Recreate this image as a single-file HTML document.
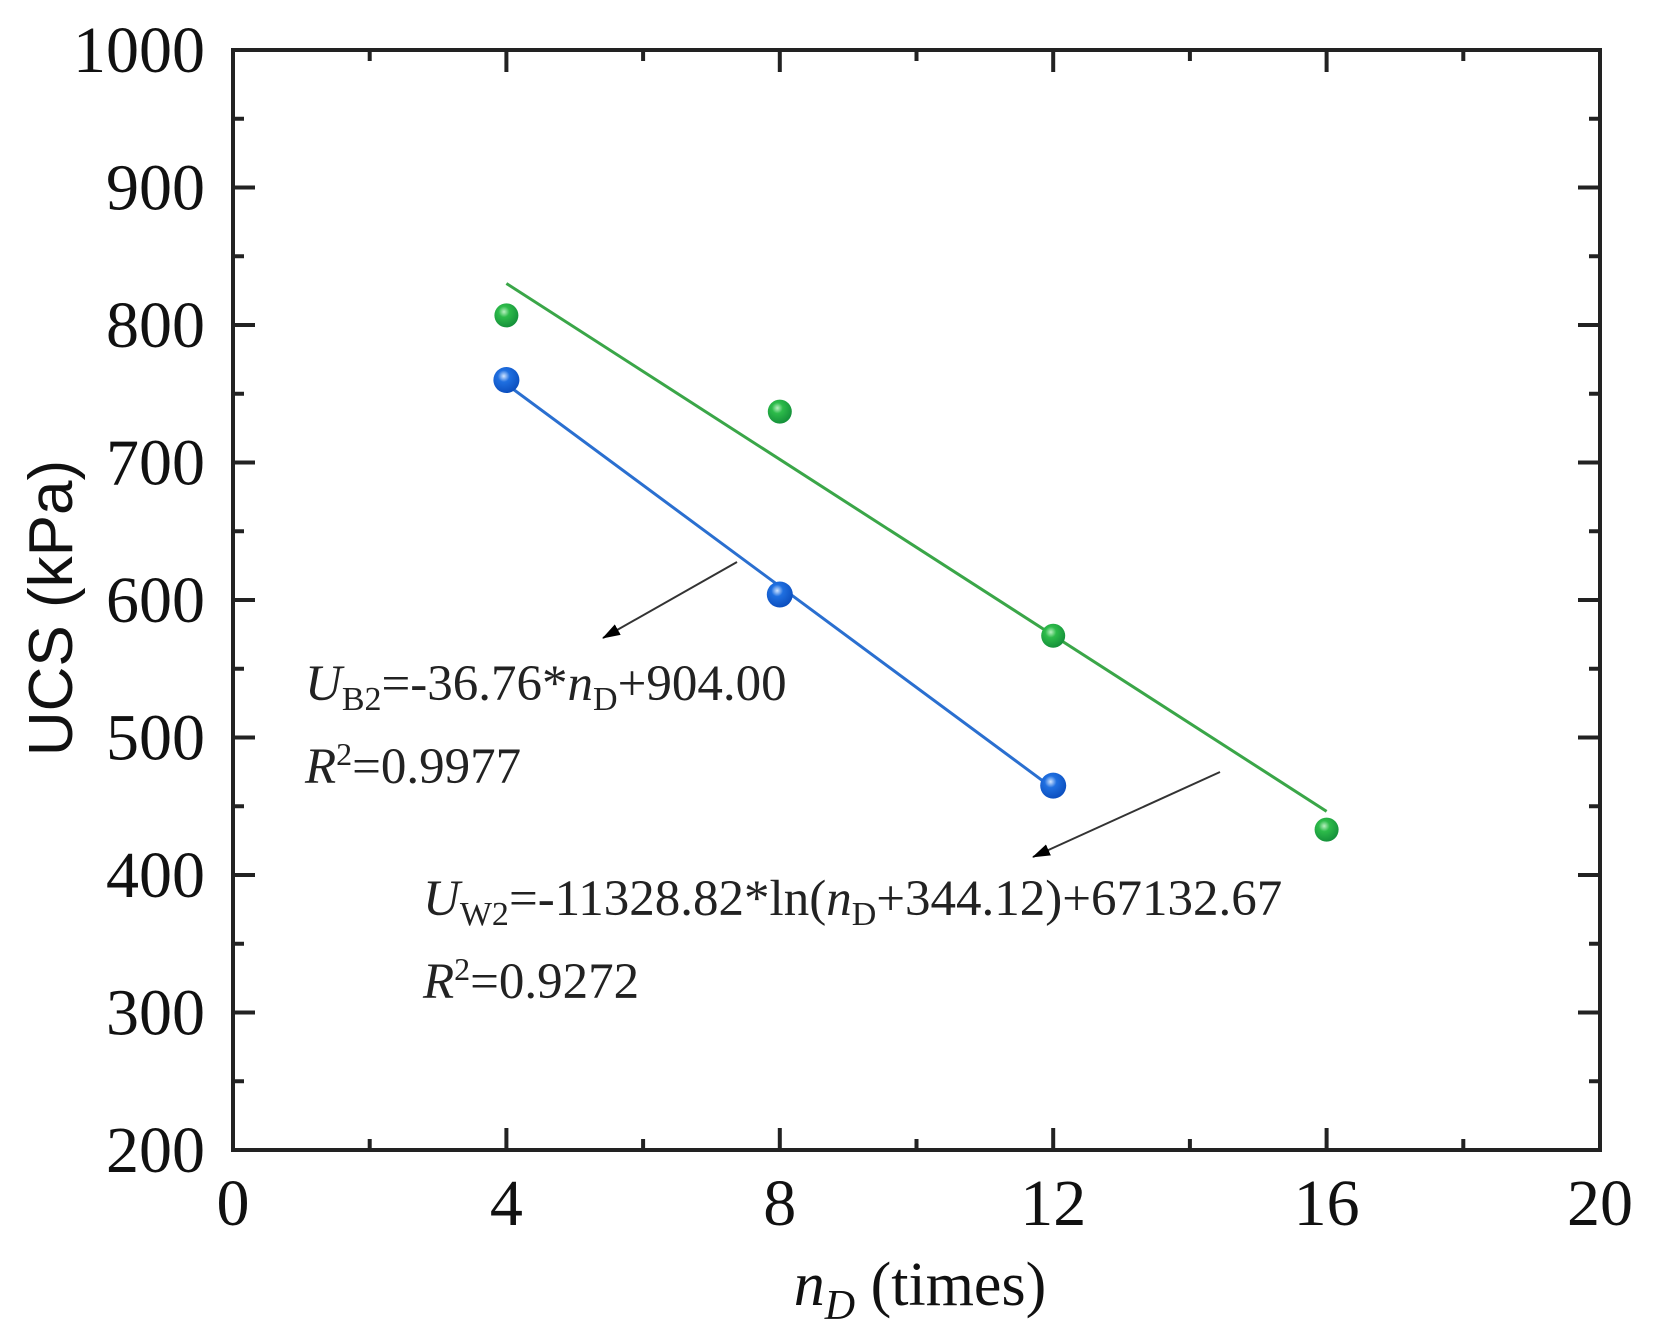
<!DOCTYPE html>
<html><head><meta charset="utf-8"><style>
html,body{margin:0;padding:0;background:#fff;}
svg{display:block;font-family:"Liberation Serif",serif;}
</style></head><body>
<svg id="chart" width="1659" height="1331" viewBox="0 0 1659 1331" xmlns="http://www.w3.org/2000/svg">
<defs>
<radialGradient id="gGreen" cx="0.4" cy="0.35" r="0.65"><stop offset="0" stop-color="#b8f0c0"/><stop offset="0.35" stop-color="#2dbb4a"/><stop offset="1" stop-color="#15913a"/></radialGradient>
<radialGradient id="gBlue" cx="0.4" cy="0.35" r="0.65"><stop offset="0" stop-color="#d0e4ff"/><stop offset="0.35" stop-color="#1f6fe0"/><stop offset="1" stop-color="#0c4fbf"/></radialGradient>
<marker id="arr" markerWidth="18" markerHeight="12" refX="17" refY="6" orient="auto" markerUnits="userSpaceOnUse" viewBox="0 0 18 12"><path d="M0,0 L18,6 L0,12 z" fill="#000"/></marker>
</defs>
<g id="plot"></g>
<text x="305" y="700" font-size="51" fill="#222"><tspan font-style="italic">U</tspan><tspan font-size="34" dy="10">B2</tspan><tspan dy="-10">=-36.76*</tspan><tspan font-style="italic">n</tspan><tspan font-size="34" dy="10">D</tspan><tspan dy="-10">+904.00</tspan></text>
<text x="305" y="783" font-size="51" fill="#222"><tspan font-style="italic">R</tspan><tspan font-size="32" dy="-18">2</tspan><tspan dy="18">=0.9977</tspan></text>
<text x="423" y="915" font-size="51" fill="#222"><tspan font-style="italic">U</tspan><tspan font-size="34" dy="10">W2</tspan><tspan dy="-10">=-11328.82*ln(</tspan><tspan font-style="italic">n</tspan><tspan font-size="34" dy="10">D</tspan><tspan dy="-10">+344.12)+67132.67</tspan></text>
<text x="423" y="998" font-size="51" fill="#222"><tspan font-style="italic">R</tspan><tspan font-size="32" dy="-18">2</tspan><tspan dy="18">=0.9272</tspan></text>
<line x1="737" y1="562" x2="603" y2="638" stroke="#333" stroke-width="2" marker-end="url(#arr)"/>
<line x1="1220" y1="772" x2="1033" y2="857" stroke="#333" stroke-width="2" marker-end="url(#arr)"/>
<text transform="translate(72,608) rotate(-90)" text-anchor="middle" font-size="62" fill="#111" font-family="Liberation Sans, sans-serif">UCS (kPa)</text>
<text x="920" y="1305" text-anchor="middle" font-size="62" fill="#111"><tspan font-style="italic">n</tspan><tspan font-style="italic" font-size="42" dy="14">D</tspan><tspan dy="-14"> (times)</tspan></text>
</svg>
<script>
const xTicks=[0,4,8,12,16,20];
const yTicks=[200,300,400,500,600,700,800,900,1000];
const greenX=[4,8,12,16];
const greenY=[807,737,574,433];
const blueX=[4,8,12];
const blueY=[760,604,465];
const blueSlope=-36.76, blueIntercept=904.00;
const wA=-11328.82, wB=344.12, wC=67132.67;
const L=233,R=1600,T=50,B=1150;
const sx=v=>L+(v-0)/(20-0)*(R-L);
const sy=v=>B-(v-200)/(1000-200)*(B-T);
const NS="http://www.w3.org/2000/svg";
const g=document.getElementById('plot');
function mk(t,a){const e=document.createElementNS(NS,t);for(const k in a)e.setAttribute(k,a[k]);g.appendChild(e);return e;}
let e=mk('line',{x1:sx(4),y1:sy(blueSlope*4+blueIntercept),x2:sx(12),y2:sy(blueSlope*12+blueIntercept),stroke:'#2a6fd0','stroke-width':3});


const wf=x=>wA*Math.log(x+wB)+wC;
e=mk('line',{x1:sx(4),y1:sy(wf(4)),x2:sx(16),y2:sy(wf(16)),stroke:'#3aa648','stroke-width':3});


greenX.forEach((x,i)=>{const c=mk('circle',{cx:sx(x),cy:sy(greenY[i]),r:12,fill:'url(#gGreen)'});

});
blueX.forEach((x,i)=>{const c=mk('circle',{cx:sx(x),cy:sy(blueY[i]),r:13,fill:'url(#gBlue)'});

});
e=mk('rect',{x:L,y:T,width:R-L,height:B-T,fill:'none',stroke:'#222','stroke-width':4});


for(let v=0;v<=20;v+=2){const x=sx(v);const len=(v%4===0)?22:11;
mk('line',{x1:x,y1:B,x2:x,y2:B-len,stroke:'#222','stroke-width':4});
mk('line',{x1:x,y1:T,x2:x,y2:T+len,stroke:'#222','stroke-width':4});}
for(let v=200;v<=1000;v+=50){const y=sy(v);const len=(v%100===0)?22:11;
mk('line',{x1:L,y1:y,x2:L+len,y2:y,stroke:'#222','stroke-width':4});
mk('line',{x1:R,y1:y,x2:R-len,y2:y,stroke:'#222','stroke-width':4});}
xTicks.forEach(v=>{const t=mk('text',{x:sx(v),y:B+75,'text-anchor':'middle','font-size':66,fill:'#111'});t.textContent=v;

});
yTicks.forEach(v=>{const t=mk('text',{x:L-28,y:sy(v)+22,'text-anchor':'end','font-size':66,fill:'#111'});t.textContent=v;

});
</script>
</body></html>
